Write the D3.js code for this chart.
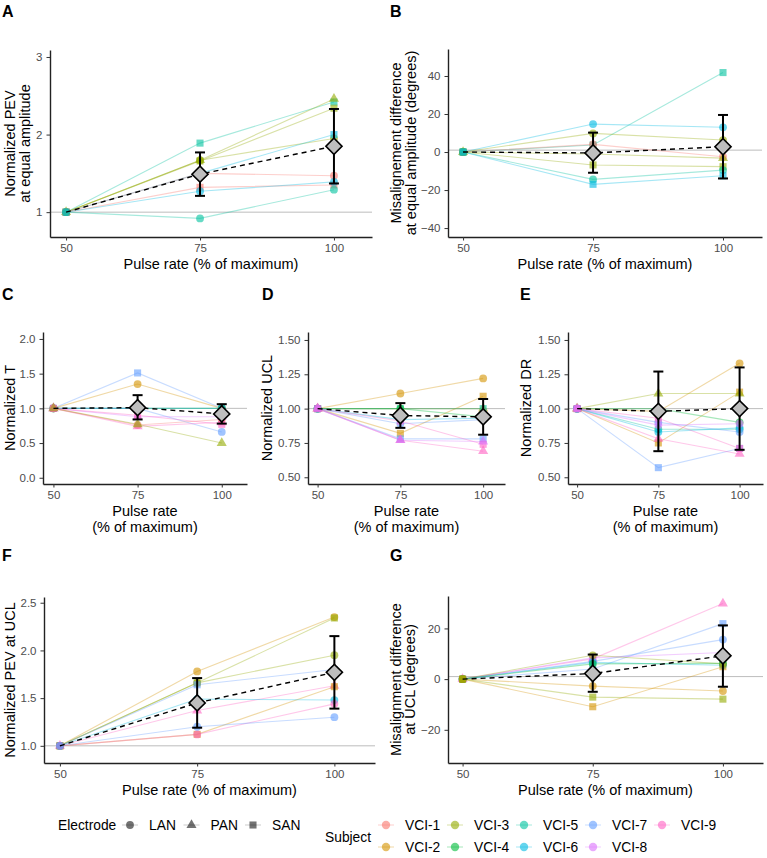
<!DOCTYPE html>
<html>
<head>
<meta charset="utf-8">
<script src="https://cdn.jsdelivr.net/npm/d3@7"></script>
<style>
  body { margin: 0; background: #fff; }
  svg { font-family: "Liberation Sans", Arial, sans-serif; }
  .tick text { fill: #4d4d4d; font-size: 11.5px; }
  .tick line { stroke: #333; }
  .domain { stroke: #222; stroke-width: 1.4px; }
  .axis-title { font-size: 14.5px; fill: #000; }
  .panel-tag { font-size: 16px; font-weight: bold; }
  .legend text { font-size: 13.8px; fill: #000; }
</style>
</head>
<body>
<svg id="chart" width="767" height="858"></svg>
<script>
// x positions (pulse rate, % of max)
const rates = [50, 75, 100];

const subjects = ['VCI-1', 'VCI-2', 'VCI-3', 'VCI-4', 'VCI-5', 'VCI-6', 'VCI-7', 'VCI-8', 'VCI-9'];
const subjectColors = ['#F8766D', '#D39200', '#93AA00', '#00BA38', '#00C19F', '#00B9E3', '#619CFF', '#DB72FB', '#FF61C3'];
const electrodes = ['LAN', 'PAN', 'SAN'];

// A: normalized PEV at equal amplitude
const pevEqual = [
  {s: 'VCI-5', e: 'SAN', v: [1, 1.89, 2.42]},
  {s: 'VCI-3', e: 'PAN', v: [1, 1.67, 2.46]},
  {s: 'VCI-3', e: 'SAN', v: [1, 1.66, 2.34]},
  {s: 'VCI-3', e: 'LAN', v: [1, 1.67, 1.95]},
  {s: 'VCI-6', e: 'SAN', v: [1, 1.50, 2.00]},
  {s: 'VCI-1', e: 'LAN', v: [1, 1.50, 1.47]},
  {s: 'VCI-1', e: 'SAN', v: [1, 1.32, 1.35]},
  {s: 'VCI-6', e: 'LAN', v: [1, 1.27, 1.39]},
  {s: 'VCI-5', e: 'LAN', v: [1, 0.92, 1.29]}
];
const pevEqualMean = [{x: 50, m: 1}, {x: 75, m: 1.49, lo: 1.21, hi: 1.77}, {x: 100, m: 1.85, lo: 1.37, hi: 2.33}];

// B: misalignment difference at equal amplitude
const misEqual = [
  {s: 'VCI-5', e: 'SAN', v: [0, 3.7, 41.8]},
  {s: 'VCI-6', e: 'LAN', v: [0, 14.7, 13]},
  {s: 'VCI-3', e: 'LAN', v: [0, 9.8, 6.3]},
  {s: 'VCI-1', e: 'LAN', v: [0, 4, -2.5]},
  {s: 'VCI-3', e: 'PAN', v: [0, -1, -3.2]},
  {s: 'VCI-3', e: 'SAN', v: [0, -6.8, -7.7]},
  {s: 'VCI-5', e: 'LAN', v: [0, -14.4, -9.5]},
  {s: 'VCI-6', e: 'SAN', v: [0, -17, -12.5]}
];
const misEqualMean = [{x: 50, m: 0}, {x: 75, m: -0.5, lo: -10.9, hi: 10.2}, {x: 100, m: 2.8, lo: -13.9, hi: 19.5}];

// C: normalized T
const normT = [
  {s: 'VCI-7', e: 'SAN', v: [1, 1.51, 1.0]},
  {s: 'VCI-2', e: 'LAN', v: [1, 1.35, 1.0]},
  {s: 'VCI-4', e: 'LAN', v: [1, 1.0, 1.0]},
  {s: 'VCI-6', e: 'LAN', v: [1, 1.0, 1.0]},
  {s: 'VCI-7', e: 'LAN', v: [1, 1.0, 0.66]},
  {s: 'VCI-8', e: 'PAN', v: [1, 0.88, 0.88]},
  {s: 'VCI-9', e: 'SAN', v: [1, 0.9, 0.77]},
  {s: 'VCI-1', e: 'LAN', v: [1, 0.76, 0.84]},
  {s: 'VCI-9', e: 'PAN', v: [1, 0.74, 0.80]},
  {s: 'VCI-3', e: 'PAN', v: [1, 0.77, 0.5]}
];
const normTMean = [{x: 50, m: 1}, {x: 75, m: 1.01, lo: 0.84, hi: 1.19}, {x: 100, m: 0.92, lo: 0.78, hi: 1.06}];

// D: normalized UCL
const normUCL = [
  {s: 'VCI-2', e: 'LAN', v: [1, 1.11, 1.22]},
  {s: 'VCI-2', e: 'SAN', v: [1, 0.82, 1.09]},
  {s: 'VCI-2', e: 'PAN', v: [1, 1.0, 1.0]},
  {s: 'VCI-5', e: 'SAN', v: [1, 1.0, 1.0]},
  {s: 'VCI-4', e: 'LAN', v: [1, 1.0, 0.94]},
  {s: 'VCI-6', e: 'LAN', v: [1, 0.92, 0.93]},
  {s: 'VCI-7', e: 'LAN', v: [1, 0.89, 0.92]},
  {s: 'VCI-7', e: 'SAN', v: [1, 0.78, 0.78]},
  {s: 'VCI-9', e: 'PAN', v: [1, 0.77, 0.69]},
  {s: 'VCI-9', e: 'SAN', v: [1, 0.91, 0.74]},
  {s: 'VCI-8', e: 'PAN', v: [1, 0.77, 0.76]}
];
const normUCLMean = [{x: 50, m: 1}, {x: 75, m: 0.95, lo: 0.86, hi: 1.04}, {x: 100, m: 0.94, lo: 0.81, hi: 1.07}];

// E: normalized DR
const normDR = [
  {s: 'VCI-2', e: 'LAN', v: [1, 0.98, 1.33]},
  {s: 'VCI-2', e: 'SAN', v: [1, 0.75, 1.12]},
  {s: 'VCI-3', e: 'PAN', v: [1, 1.11, 1.11]},
  {s: 'VCI-4', e: 'LAN', v: [1, 1.0, 0.9]},
  {s: 'VCI-5', e: 'LAN', v: [1, 0.85, 0.85]},
  {s: 'VCI-6', e: 'LAN', v: [1, 0.83, 0.86]},
  {s: 'VCI-7', e: 'SAN', v: [1, 0.57, 0.71]},
  {s: 'VCI-7', e: 'LAN', v: [1, 0.9, 0.83]},
  {s: 'VCI-9', e: 'PAN', v: [1, 0.78, 0.67]},
  {s: 'VCI-9', e: 'SAN', v: [1, 0.93, 0.71]},
  {s: 'VCI-8', e: 'LAN', v: [1, 0.88, 0.89]}
];
const normDRMean = [{x: 50, m: 1}, {x: 75, m: 0.98, lo: 0.69, hi: 1.27}, {x: 100, m: 1.0, lo: 0.70, hi: 1.30}];

// F: normalized PEV at UCL
const pevUCL = [
  {s: 'VCI-2', e: 'LAN', v: [1, 1.78, 2.35]},
  {s: 'VCI-3', e: 'SAN', v: [1, 1.66, 2.34]},
  {s: 'VCI-3', e: 'LAN', v: [1, 1.66, 1.95]},
  {s: 'VCI-7', e: 'SAN', v: [1, 1.64, 1.80]},
  {s: 'VCI-9', e: 'PAN', v: [1, 1.37, 1.63]},
  {s: 'VCI-2', e: 'SAN', v: [1, 1.12, 1.62]},
  {s: 'VCI-6', e: 'LAN', v: [1, 1.49, 1.48]},
  {s: 'VCI-9', e: 'LAN', v: [1, 1.12, 1.44]},
  {s: 'VCI-7', e: 'LAN', v: [1, 1.20, 1.30]}
];
const pevUCLMean = [{x: 50, m: 1}, {x: 75, m: 1.45, lo: 1.19, hi: 1.71}, {x: 100, m: 1.77, lo: 1.39, hi: 2.15}];

// G: misalignment difference at UCL
const misUCL = [
  {s: 'VCI-9', e: 'PAN', v: [0, 8, 29.8]},
  {s: 'VCI-7', e: 'SAN', v: [0, 4, 21.9]},
  {s: 'VCI-7', e: 'LAN', v: [0, 7, 15.6]},
  {s: 'VCI-8', e: 'LAN', v: [0, 8.4, 10.5]},
  {s: 'VCI-3', e: 'LAN', v: [0, 9.4, 6]},
  {s: 'VCI-6', e: 'LAN', v: [0, 6.6, 5.5]},
  {s: 'VCI-4', e: 'LAN', v: [0, 6, 6.2]},
  {s: 'VCI-2', e: 'SAN', v: [0, -10.9, 4.9]},
  {s: 'VCI-2', e: 'LAN', v: [0, -2.75, -4.7]},
  {s: 'VCI-3', e: 'SAN', v: [0, -7.1, -7.9]}
];
const misUCLMean = [{x: 50, m: 0}, {x: 75, m: 2.2, lo: -5.0, hi: 9.7}, {x: 100, m: 9.2, lo: -3.0, hi: 21.2}];

const color = d3.scaleOrdinal().domain(subjects).range(subjectColors);
const shape = d3.scaleOrdinal().domain(electrodes).range([d3.symbolCircle, d3.symbolTriangle, d3.symbolSquare]);
const shapeSize = {LAN: 48, PAN: 44, SAN: 50};

const panels = [
  {tag: 'A', tagX: 2, tagY: 17, box: [50, 50, 372, 237], xd: [47, 107.1], yd: [0.68, 3.09],
   yt: [1, 2, 3], fmt: d3.format('d'), title: ['Normalized PEV', 'at equal amplitude'], tx: [14.5, 29.5],
   xt: ['Pulse rate (% of maximum)'], data: pevEqual, mean: pevEqualMean},
  {tag: 'B', tagX: 390, tagY: 17, box: [448, 49, 762, 237], xd: [47.1, 107.5], yd: [-44.7, 54.2],
   yt: [-40, -20, 0, 20, 40], fmt: d3.format('d'), title: ['Misalignement difference', 'at equal amplitude (degrees)'], tx: [401, 416],
   xt: ['Pulse rate (% of maximum)'], data: misEqual, mean: misEqualMean},
  {tag: 'C', tagX: 2, tagY: 300, box: [43, 332, 247, 484], xd: [46.9, 107.5], yd: [-0.09, 2.1],
   yt: [0, 0.5, 1, 1.5, 2], fmt: d3.format('.1f'), title: ['Normalized T'], tx: [14.5],
   xt: ['Pulse rate', '(% of maximum)'], data: normT, mean: normTMean},
  {tag: 'D', tagX: 262, tagY: 300, box: [308, 332, 505, 484], xd: [47.1, 106.6], yd: [0.451, 1.558],
   yt: [0.5, 0.75, 1, 1.25, 1.5], fmt: d3.format('.2f'), title: ['Normalized UCL'], tx: [271.5],
   xt: ['Pulse rate', '(% of maximum)'], data: normUCL, mean: normUCLMean},
  {tag: 'E', tagX: 520, tagY: 300, box: [568, 332, 763, 484], xd: [47.2, 107.2], yd: [0.451, 1.558],
   yt: [0.5, 0.75, 1, 1.25, 1.5], fmt: d3.format('.2f'), title: ['Normalized DR'], tx: [531],
   xt: ['Pulse rate', '(% of maximum)'], data: normDR, mean: normDRMean},
  {tag: 'F', tagX: 2, tagY: 561, box: [44, 597, 375, 763], xd: [47.1, 107.4], yd: [0.82, 2.56],
   yt: [1, 1.5, 2, 2.5], fmt: d3.format('.1f'), title: ['Normalized PEV at UCL'], tx: [14.5],
   xt: ['Pulse rate (% of maximum)'], data: pevUCL, mean: pevUCLMean},
  {tag: 'G', tagX: 390, tagY: 561, box: [448, 596, 763, 763], xd: [47.2, 107.7], yd: [-33.1, 32.8],
   yt: [-20, 0, 20], fmt: d3.format('d'), title: ['Misalignment difference', 'at UCL (degrees)'], tx: [401, 415],
   xt: ['Pulse rate (% of maximum)'], data: misUCL, mean: misUCLMean}
];

const svg = d3.select('#chart');

panels.forEach(p => {
  const [x0, y0, x1, y1] = p.box;
  const x = d3.scaleLinear().domain(p.xd).range([x0, x1]);
  const y = d3.scaleLinear().domain(p.yd).range([y1, y0]);
  const g = svg.append('g');

  svg.append('text').attr('class', 'panel-tag')
    .attr('x', p.tagX).attr('y', p.tagY).text(p.tag);

  // reference line
  g.append('line')
    .attr('x1', x0).attr('x2', x1)
    .attr('y1', y(1)).attr('y2', y(1))
    .attr('stroke', '#bdbdbd').attr('stroke-width', 1);

  // subject lines
  const line = d3.line().x((d, i) => x(rates[i])).y(d => y(d));
  g.selectAll('.sline')
    .data(p.data)
    .enter()
    .append('path')
    .attr('class', 'sline')
    .attr('d', d => line(d.v))
    .attr('fill', 'none')
    .attr('stroke', d => color(d.s))
    .attr('stroke-opacity', 0.35)
    .attr('stroke-width', 1.1);

  // subject points
  const pts = p.data.flatMap(d => d.v.map((v, i) => ({s: d.s, e: d.e, x: rates[i], y: v})));
  g.selectAll('.pt')
    .data(pts)
    .enter()
    .append('path')
    .attr('class', 'pt')
    .attr('transform', d => `translate(${x(d.x)}, ${y(d.y)})`)
    .attr('d', d => d3.symbol(shape(d.e), shapeSize[d.e])())
    .attr('fill', d => color(d.s))
    .attr('fill-opacity', 0.6);

  // mean line
  g.append('path')
    .attr('d', d3.line().x(d => x(d.x)).y(d => y(d.m))(p.mean))
    .attr('fill', 'none')
    .attr('stroke', '#000')
    .attr('stroke-width', 1.4)
    .attr('stroke-dasharray', '5,4');

  const bars = p.mean.filter(d => d.lo !== undefined);
  const eb = g.selectAll('.eb').data(bars).enter().append('g');
  eb.append('line')
    .attr('x1', d => x(d.x)).attr('x2', d => x(d.x))
    .attr('y1', d => y(d.lo)).attr('y2', d => y(d.hi));
  eb.append('line')
    .attr('x1', d => x(d.x) - 5).attr('x2', d => x(d.x) + 5)
    .attr('y1', d => y(d.lo)).attr('y2', d => y(d.lo));
  eb.append('line')
    .attr('x1', d => x(d.x) - 5).attr('x2', d => x(d.x) + 5)
    .attr('y1', d => y(d.hi)).attr('y2', d => y(d.hi));
  eb.selectAll('line').attr('stroke', '#000').attr('stroke-width', 2);

  eb.append('path')
    .attr('transform', d => `translate(${x(d.x)}, ${y(d.m)}) rotate(45)`)
    .attr('d', d3.symbol(d3.symbolSquare, 130)())
    .attr('fill', '#bebebe')
    .attr('stroke', '#000')
    .attr('stroke-width', 1.6);

  // axes
  svg.append('g')
    .attr('transform', `translate(0, ${y1})`)
    .call(d3.axisBottom(x).tickValues(rates).tickSize(3.5).tickPadding(3).tickSizeOuter(0));
  svg.append('g')
    .attr('transform', `translate(${x0}, 0)`)
    .call(d3.axisLeft(y).tickValues(p.yt).tickFormat(p.fmt).tickSize(3.5).tickPadding(4).tickSizeOuter(0));

  // axis titles
  const cx = (x0 + x1) / 2;
  p.xt.forEach((t, i) => {
    svg.append('text').attr('class', 'axis-title')
      .attr('x', cx).attr('y', y1 + 32 + i * 16)
      .attr('text-anchor', 'middle').text(t);
  });
  const cy = (y0 + y1) / 2;
  p.title.forEach((t, i) => {
    svg.append('text').attr('class', 'axis-title')
      .attr('transform', `translate(${p.tx[i]}, ${cy}) rotate(-90)`)
      .attr('text-anchor', 'middle').text(t);
  });
});

// legends
const leg = svg.append('g').attr('class', 'legend');
leg.append('text').attr('x', 58).attr('y', 830).text('Electrode');
electrodes.forEach((e, i) => {
  const kx = 130 + i * 61.5;
  leg.append('line').attr('x1', kx - 8).attr('x2', kx + 8).attr('y1', 825).attr('y2', 825)
    .attr('stroke', '#7f7f7f').attr('stroke-opacity', 0.4);
  leg.append('path').attr('transform', `translate(${kx}, 825)`)
    .attr('d', d3.symbol(shape(e), shapeSize[e])())
    .attr('fill', '#000').attr('fill-opacity', 0.55);
  leg.append('text').attr('x', kx + 19).attr('y', 830).text(e);
});

leg.append('text').attr('x', 325).attr('y', 842).text('Subject');
subjects.forEach((s, i) => {
  const col = Math.floor(i / 2), row = i % 2;
  const kx = 386 + col * 69;
  const ky = 825 + row * 22;
  leg.append('line').attr('x1', kx - 8).attr('x2', kx + 8).attr('y1', ky).attr('y2', ky)
    .attr('stroke', color(s)).attr('stroke-opacity', 0.35);
  leg.append('circle').attr('cx', kx).attr('cy', ky).attr('r', 4.2)
    .attr('fill', color(s)).attr('fill-opacity', 0.6);
  leg.append('text').attr('x', kx + 19).attr('y', ky + 5).text(s);
});
</script>
</body>
</html>
